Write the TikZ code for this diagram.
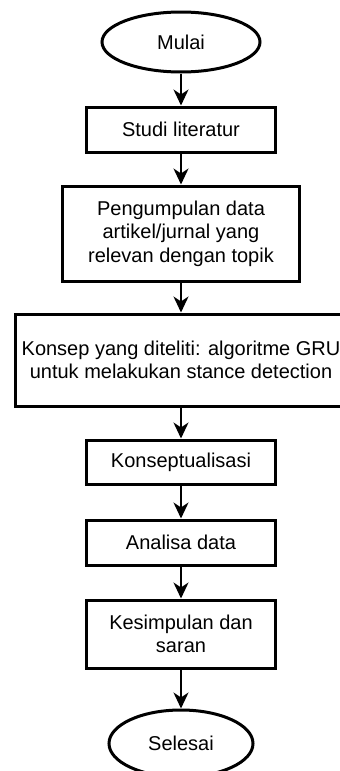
\documentclass[tikz,border=0pt]{standalone}
\usepackage{fontspec}
\setmainfont{Liberation Sans}
\usetikzlibrary{positioning,shapes.geometric,arrows.meta}

\begin{document}
\begin{tikzpicture}[node distance=15.5pt,
           every node/.style = {draw, line width=1.5pt, align=center,
             font=\fontsize{10}{11.8}\selectfont, inner sep=0pt},
           terminal/.style = {ellipse, minimum width=79pt, minimum height=30pt},
           proses/.style = {rectangle, minimum width=94.5pt, minimum height=22.5pt},
           panah/.style = {-{Stealth[length=8pt,width=7.5pt,inset=2.5pt]}, line width=1pt}]
  \useasboundingbox (0,0) rectangle (170pt,-385.5pt);
  \node[terminal] (mulai) at (90.5pt,-21pt) {Mulai};
  \node[proses, below=16pt of mulai] (studi) {Studi literatur};
  \node[proses, below=of studi, minimum width=118.5pt, minimum height=47.5pt] (kumpul)
    {Pengumpulan data\\ artikel/jurnal yang\\ relevan dengan topik};
  \node[proses, below=15pt of kumpul, minimum width=165.5pt, minimum height=46pt] (konsep)
    {Konsep yang diteliti: algoritme GRU\\ untuk melakukan stance detection};
  \node[proses, below=of konsep, minimum height=22pt] (konseptual) {Konseptualisasi};
  \node[proses, below=16.5pt of konseptual] (analisa) {Analisa data};
  \node[proses, below=16pt of analisa, minimum height=34pt] (simpulan)
    {Kesimpulan dan\\ saran};
  \node[terminal, below=19.5pt of simpulan, minimum width=72pt, minimum height=33.5pt] (selesai)
    {Selesai};
  \draw[panah] (mulai) -- (studi);
  \draw[panah] (studi) -- (kumpul);
  \draw[panah] (kumpul) -- (konsep);
  \draw[panah] (konsep) -- (konseptual);
  \draw[panah] (konseptual) -- (analisa);
  \draw[panah] (analisa) -- (simpulan);
  \draw[panah] (simpulan) -- (selesai);
\end{tikzpicture}
\end{document}
